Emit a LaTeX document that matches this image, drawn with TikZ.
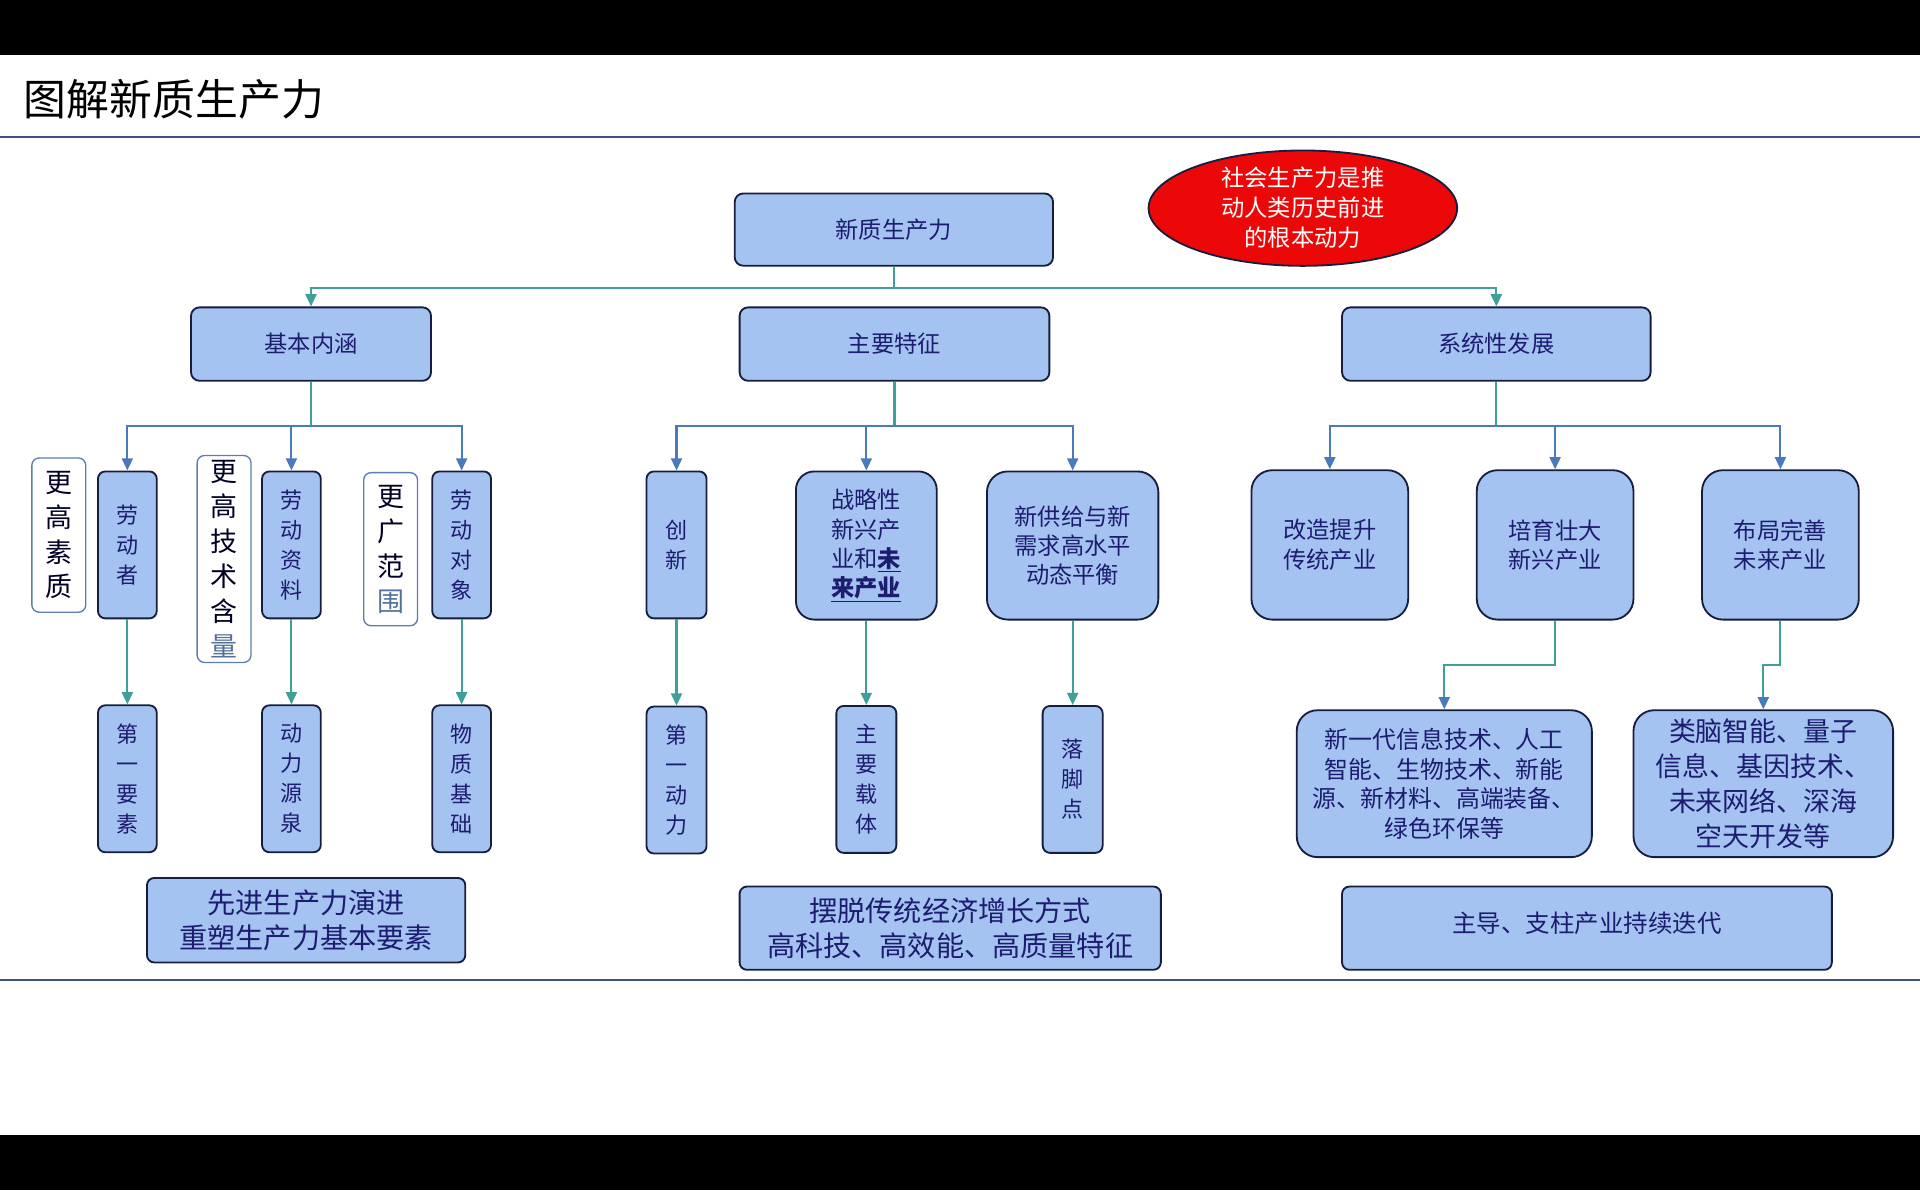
\documentclass[tikz,border=0pt]{standalone}
\usepackage{fontspec}
\setmainfont{Noto Sans CJK SC}
\usepackage{xcolor}
\definecolor{boxfill}{RGB}{165,195,240}
\definecolor{boxline}{RGB}{22,30,62}
\definecolor{textnavy}{RGB}{28,28,112}
\definecolor{noteline}{RGB}{95,125,175}
\definecolor{noteslate}{RGB}{85,112,152}
\definecolor{linkteal}{RGB}{62,160,150}
\definecolor{linkblue}{RGB}{72,122,188}
\definecolor{rulecolor}{RGB}{62,82,130}
\definecolor{goalred}{RGB}{236,8,8}
\usepackage{tikz}
\usetikzlibrary{positioning,shapes.geometric,arrows.meta,calc}
\tikzset{
  mainbox/.style={rectangle,rounded corners=7pt,draw=boxline,line width=1.5pt,
    fill=boxfill,text=textnavy,align=center,inner sep=0pt,
    font=\fontsize{19}{24}\selectfont},
  tallbox/.style={mainbox,rounded corners=6pt,minimum width=48pt,minimum height=120pt,
    font=\fontsize{18}{24.5}\selectfont},
  notebox/.style={rectangle,rounded corners=6pt,draw=noteline,line width=1.1pt,
    fill=white,text=black!85!blue,align=center,inner sep=0pt,minimum width=44pt,
    font=\fontsize{22}{28.5}\selectfont},
  roundbox/.style={mainbox,rounded corners=17pt},
  sumbox/.style={mainbox,rounded corners=6pt,font=\fontsize{23}{29}\selectfont},
  goalnode/.style={ellipse,draw=boxline,line width=1.5pt,fill=goalred,text=white,
    align=center,inner sep=0pt,minimum width=252pt,minimum height=81pt,
    font=\fontsize{19}{24.5}\selectfont},
  trunk/.style={draw=linkteal,line width=1.7pt},
  toptip/.style={-{Triangle[length=10pt,width=9pt]},draw=linkteal,line width=1.7pt},
  branch/.style={-{Triangle[length=10pt,width=9pt]},draw=linkblue,line width=1.7pt},
  down/.style={-{Triangle[length=10pt,width=9pt]},draw=linkteal,line width=1.7pt},
  elbow/.style={-{Triangle[length=10pt,width=9pt,color=linkblue]},draw=linkteal,line width=1.7pt},
}

\begin{document}
\begin{tikzpicture}[x=1pt,y=-1pt]
  \useasboundingbox (0,0) rectangle (1568,972);
  % --- frame ---
  \fill[black] (0,0) rectangle (1568,45);
  \fill[black] (0,927) rectangle (1568,972);
  \node[anchor=west,font=\fontsize{35}{40}\selectfont] (TITLE) at (16,81) {图解新质生产力};
  \draw[rulecolor,line width=1.8pt] (0,112) -- (1568,112);
  \draw[rulecolor,line width=1.8pt] (0,800) -- (1568,800);
  % --- root and goal ---
  \node[mainbox,minimum width=260pt,minimum height=59pt] (ROOT) at (730,187.5) {新质生产力};
  \node[goalnode] (GOAL) at (1064,170) {社会生产力是推\\动人类历史前进\\的根本动力};
  % --- level 2 ---
  \node[mainbox,minimum width=196pt,minimum height=60pt] (JB) at (254,281) {基本内涵};
  \node[mainbox,minimum width=253pt,minimum height=60pt] (ZT) at (730.5,281) {主要特征};
  \node[mainbox,minimum width=252pt,minimum height=60pt] (XT) at (1222,281) {系统性发展};
  % --- basic content: tall boxes ---
  \foreach \name/\x/\y/\lab in {LDZ/104/445/{劳\\动\\者},LDZL/238/445/{劳\\动\\资\\料},
    LDDX/377/445/{劳\\动\\对\\象},DYYS/104/636/{第\\一\\要\\素},
    DLYQ/238/636/{动\\力\\源\\泉},WZJC/377/636/{物\\质\\基\\础}}{
    \node[tallbox] (\name) at (\x,\y) {\lab};}
  \node[notebox,minimum height=126pt] (NQ1) at (48,437) {更\\高\\素\\质};
  \node[notebox,minimum height=169pt] (NQ2) at (183,456.5) {更\\高\\技\\术\\含\\{\color{noteslate}量}};
  \node[notebox,minimum height=125pt] (NQ3) at (319,448.5) {更\\广\\范\\{\color{noteslate}围}};
  \node[sumbox,minimum width=260pt,minimum height=69pt] (SUM1) at (250,751.5)
    {先进生产力演进\\重塑生产力基本要素};
  % --- main features ---
  \foreach \name/\x/\y/\lab in {CX/552.5/445/{创\\新},DYDL/552.5/637/{第\\一\\动\\力},
    ZYZT/707.5/636.5/{主\\要\\载\\体},LJD/876/636.5/{落\\脚\\点}}{
    \node[tallbox,minimum width=49pt] (\name) at (\x,\y) {\lab};}
  \node[roundbox,rounded corners=15pt,minimum width=115pt,minimum height=121pt] (ZLX) at (707.5,445.5)
    {战略性\\新兴产\\业和\textbf{\underline{未}}\\\textbf{\underline{来产业}}};
  \node[roundbox,minimum width=140pt,minimum height=121pt,font=\fontsize{19}{23.5}\selectfont] (XGJ) at (876,445.5)
    {新供给与新\\需求高水平\\动态平衡};
  \node[sumbox,minimum width=344pt,minimum height=68pt] (SUM2) at (776,758)
    {摆脱传统经济增长方式\\高科技、高效能、高质量特征};
  % --- systemic development ---
  \foreach \name/\x/\lab in {GZTS/1086/{改造提升\\传统产业},PYZD/1270/{培育壮大\\新兴产业},
    BJWS/1454/{布局完善\\未来产业}}{
    \node[roundbox,minimum width=128pt,minimum height=122pt] (\name) at (\x,445) {\lab};}
  \node[roundbox,minimum width=241pt,minimum height=120pt,font=\fontsize{19.5}{24.3}\selectfont] (XYD) at (1179.5,640)
    {新一代信息技术、人工\\智能、生物技术、新能\\源、新材料、高端装备、\\绿色环保等};
  \node[roundbox,minimum width=212pt,minimum height=120pt,font=\fontsize{22}{28.5}\selectfont] (LNZN) at (1440,640)
    {类脑智能、量子\\信息、基因技术、\\未来网络、深海\\空天开发等};
  \node[sumbox,minimum width=400pt,minimum height=68pt,font=\fontsize{20}{24}\selectfont] (SUM3) at (1296,758)
    {\raisebox{10pt}{主导、支柱产业持续迭代}};
  % --- connectors ---
  \coordinate (barA) at (730,235);
  \coordinate (barB) at (254,348);
  \coordinate (barC) at (730.5,348);
  \coordinate (barD) at (1222,348);
  \coordinate (kinkA) at (1270,543);
  \coordinate (kinkB) at (1454,543);
  \draw[trunk] (ROOT.south) -- (barA);
  \foreach \d in {JB,XT}{\draw[toptip] (barA) -| (\d.north);}
  \draw[trunk] (JB.south) -- (barB);
  \foreach \d in {LDZ,LDZL,LDDX}{\draw[branch] (barB) -| (\d.north);}
  \draw[trunk] (ZT.south) -- (barC);
  \foreach \d in {CX,ZLX,XGJ}{\draw[branch] (barC) -| (\d.north);}
  \draw[trunk] (XT.south) -- (barD);
  \foreach \d in {GZTS,PYZD,BJWS}{\draw[branch] (barD) -| (\d.north);}
  \foreach \a/\b in {LDZ/DYYS,LDZL/DLYQ,LDDX/WZJC,CX/DYDL,ZLX/ZYZT,XGJ/LJD}{
    \draw[down] (\a.south) -- (\b.north);}
  \draw[elbow] (PYZD.south) -- (kinkA) -| (XYD.north);
  \draw[elbow] (BJWS.south) -- (kinkB) -| (LNZN.north);
\end{tikzpicture}
\end{document}
